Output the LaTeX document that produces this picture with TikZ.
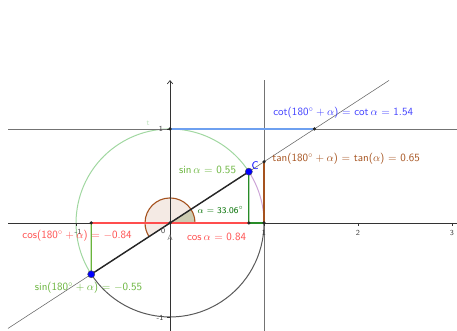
\documentclass[tikz,border=0pt]{standalone}
\usepackage{amsmath}
\usepackage{tikz}
\usetikzlibrary{positioning, arrows.meta}
\usepackage{xcolor}
\definecolor{ggred}{RGB}{255,77,77}
\definecolor{gggreen}{RGB}{105,180,60}
\definecolor{ggsin}{RGB}{40,140,40}
\definecolor{ggdkgreen}{RGB}{0,110,0}
\definecolor{ggblue}{RGB}{64,64,255}
\definecolor{gglblue}{RGB}{110,160,240}
\definecolor{ggbrown}{RGB}{165,82,30}
\definecolor{ggcircle}{RGB}{160,215,160}
\definecolor{ggpurple}{RGB}{205,165,215}

\begin{document}
\begin{tikzpicture}[x=3cm, y=3cm,
      axis/.style={draw=black!80, line width=0.6pt},
      helper/.style={draw=black!55, line width=0.7pt},
      pt/.style={circle, fill=black!85, inner sep=0pt, minimum size=3.2pt},
      bigpt/.style={circle, fill=blue, draw=black!70, inner sep=0pt, minimum size=6.5pt},
      lbl/.style={font=\sffamily, inner sep=1pt},
      tk/.style={font=\sffamily\scriptsize, text=black!75, inner sep=0.5pt},
    ]
    \useasboundingbox (-1.809,-1.149) rectangle (3.053,2.372);

    % Points of the unit circle construction
    \coordinate (A) at (0,0);
    \coordinate (C) at (33.06:1);
    \coordinate (D) at (213.06:1);
    \coordinate (Cx) at (0.8381,0);
    \coordinate (Dx) at (-0.8381,0);
    \coordinate (E) at (1,0);
    \coordinate (T) at (1,0.6509);
    \coordinate (U) at (0,1);
    \coordinate (K) at (1.5364,1);

    % Ends of axes and helper lines
    \coordinate (xl) at (-1.723,0);
    \coordinate (xr) at (3.053,0);
    \coordinate (yt) at (0,1.52);
    \coordinate (yb) at (0,-1.149);
    \coordinate (hl) at (-1.723,1);
    \coordinate (hr) at (3.053,1);
    \coordinate (vt) at (1,1.52);
    \coordinate (vb) at (1,-1.149);
    \coordinate (ll) at (213.06:2.056);
    \coordinate (lr) at (33.06:2.78);

    % Angle sectors
    \fill[ggbrown!12] (A) -- (0:0.266) arc[start angle=0, end angle=213.06, radius=0.266] -- cycle;
    \fill[olive!30!gray!45] (A) -- (0:0.266) arc[start angle=0, end angle=33.06, radius=0.266] -- cycle;
    \draw[ggbrown, line width=1pt] (0:0.266) arc[start angle=0, end angle=213.06, radius=0.266];

    % Unit circle in three arcs
    \draw[ggcircle, line width=0.9pt] (C) arc[start angle=33.06, end angle=213.06, radius=1];
    \draw[black!65, line width=0.9pt] (D) arc[start angle=213.06, end angle=360, radius=1];
    \draw[ggpurple, line width=0.9pt] (E) arc[start angle=0, end angle=33.06, radius=1];

    % Axes and helper lines
    \draw[axis] (xl) -- (xr);
    \draw[axis, -{Straight Barb[length=3pt, width=5pt]}] (yb) -- (yt);
    \draw[helper] (hl) -- (hr);
    \draw[helper] (vb) -- (vt);
    \draw[black!60, line width=0.5pt] (ll) -- (lr);
    \foreach \x in {1,2,3} \draw[axis] (\x,0) -- (\x,-0.03);
    \draw[axis] (-1,0) -- (-1,-0.03);
    \draw[axis] (0,1) -- (-0.03,1);
    \draw[axis] (0,-1) -- (-0.03,-1);

    % Coloured segments
    \draw[ggred, line width=1.1pt] (Dx) -- (Cx);
    \draw[ggsin, line width=1.1pt] (Cx) -- (E);
    \draw[ggsin, line width=1.1pt] (Cx) -- (C);
    \draw[gggreen, line width=1.1pt] (Dx) -- (D);
    \draw[ggbrown, line width=1.3pt] (E) -- (T);
    \draw[gglblue, line width=1.5pt] (U) -- (K);
    \draw[black!85, line width=1.3pt] (D) -- (C);

    % Points
    \foreach \p in {A, Cx, Dx, E, T, U, K}
    \node[pt] (dot\p) at (\p) {};
    \node[bigpt] (dotC) at (C) {};
    \node[bigpt] (dotD) at (D) {};

    % Tick labels
    \foreach \x in {1,2,3}
    \node[tk] (xt\x) at (\x,-0.106) {\x};
    \node[tk] (xtm) at (-0.979,-0.096) {-1};
    \node[tk] (yt1) at (-0.096,1) {1};
    \node[tk] (ytm) at (-0.106,-1.01) {-1};
    \node[tk] (origin) at (-0.074,-0.085) {0};
    \node[tk, text=black!55] (labA) at (0,-0.16) {A};
    \node[tk, text=ggcircle!70] (labt) at (-0.234,1.064) {t};

    % Value labels
    \node[lbl, text=blue, above right=-2pt and -1pt of dotC] (labC) {C};
    \node[lbl, text=ggblue, anchor=west] (cotlbl) at (1.085,1.17)
    {cot(180$^\circ+\alpha$) $=$ cot\,$\alpha$ $=$ 1.54};
    \node[lbl, text=ggbrown, anchor=west] (tanlbl) at (1.074,0.681)
    {tan(180$^\circ+\alpha$) $=$ tan($\alpha$) $=$ 0.65};
    \node[lbl, text=gggreen] (sinlbl) at (0.399,0.564) {sin\,$\alpha$ $=$ 0.55};
    \node[lbl, text=ggdkgreen, font=\sffamily\footnotesize] (anglbl) at (0.537,0.138) {$\alpha$ = 33.06$^\circ$};
    \node[lbl, text=ggred] (coslbl) at (0.495,-0.149) {cos\,$\alpha$ $=$ 0.84};
    \node[lbl, text=ggred] (cosmlbl) at (-0.989,-0.138) {cos(180$^\circ+\alpha$) $=$ $-$0.84};
    \node[lbl, text=gggreen] (sinmlbl) at (-0.867,-0.691) {sin(180$^\circ+\alpha$) $=$ $-$0.55};
\end{tikzpicture}
\end{document}
